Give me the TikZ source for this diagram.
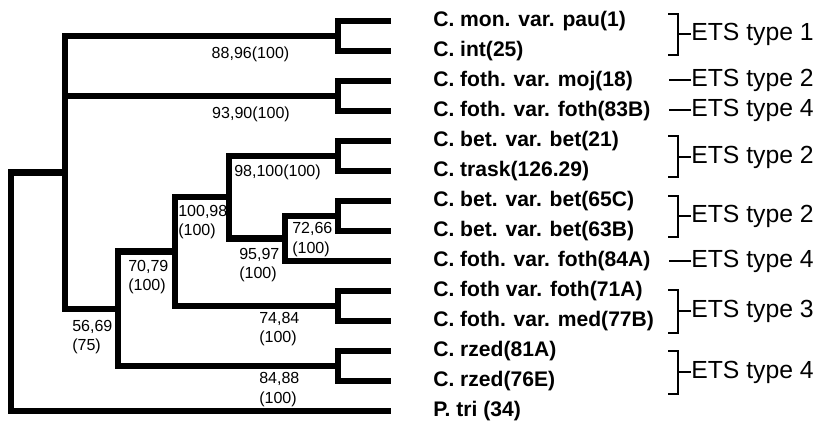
\documentclass[tikz,border=0pt]{standalone}
\usepackage{fontspec}
\setmainfont{Liberation Sans}
\usetikzlibrary{calc}
\tikzset{
  branch/.style={draw=black, line width=4.6pt, line join=miter},
  bracket/.style={draw=black, line width=2.1pt},
  leaf/.style={anchor=west, inner sep=0pt, font=\fontsize{15pt}{18pt}\selectfont\bfseries},
  support/.style={inner sep=0pt, align=left, font=\fontsize{11.4pt}{13.9pt}\selectfont},
  ets/.style={anchor=west, inner sep=0pt, font=\fontsize{17.6pt}{20pt}\selectfont},
}

\begin{document}
\begin{tikzpicture}[x=0.25mm,y=-0.25mm]
  \useasboundingbox (0,0) rectangle (825,430);
  % leaves, 30 units apart
  \foreach \i/\name in {0/{C. mon. var. pau(1)},1/{C. int(25)},2/{C. foth. var. moj(18)},
      3/{C. foth. var. foth(83B)},4/{C. bet. var. bet(21)},5/{C. trask(126.29)},
      6/{C. bet. var. bet(65C)},7/{C. bet. var. bet(63B)},8/{C. foth. var. foth(84A)},
      9/{C. foth var. foth(71A)},10/{C. foth. var. med(77B)},11/{C. rzed(81A)},
      12/{C. rzed(76E)},13/{P. tri (34)}}{
    \coordinate (l\i) at (391,{21+30*\i});
    \node[leaf] (t\i) at (433,{21+30*\i}) {\name};
  }
  % inner nodes
  \coordinate (pA) at (338,36);
  \coordinate (pB) at (338,96);
  \coordinate (pC) at (338,156);
  \coordinate (pD) at (338,216);
  \coordinate (pE) at (338,306);
  \coordinate (pF) at (338,366);
  \coordinate (n72) at (285,238.5);
  \coordinate (n98) at (229,197.25);
  \coordinate (n100) at (175,251.6);
  \coordinate (n70) at (118,308.8);
  \coordinate (n56) at (65,172.4);
  \coordinate (root) at (11,291.7);
  % branches
  \draw[branch] (l0) -| (pA) |- (l1);
  \draw[branch] (l2) -| (pB) |- (l3);
  \draw[branch] (l4) -| (pC) |- (l5);
  \draw[branch] (l6) -| (pD) |- (l7);
  \draw[branch] (l9) -| (pE) |- (l10);
  \draw[branch] (l11) -| (pF) |- (l12);
  \draw[branch] (pD) -| (n72) |- (l8);
  \draw[branch] (pC) -| (n98) |- (n72);
  \draw[branch] (n98) -| (n100) |- (pE);
  \draw[branch] (n100) -| (n70) |- (pF);
  \draw[branch] (pA) -| (n56) |- (n70);
  \draw[branch] (pB) -- (pB -| n56);
  \draw[branch] (n56) -| (root) |- (l13);
  % support values
  \node[support] (s88) at (250.5,54) {88,96(100)};
  \node[support] (s93) at (251,114) {93,90(100)};
  \node[support] (s98) at (277.5,172.5) {98,100(100)};
  \node[support, anchor=west] (s100) at (178,222) {100,98\\(100)};
  \node[support, anchor=west] (s72) at (292,239.5) {72,66\\(100)};
  \node[support, anchor=west] (s95) at (239,265) {95,97\\(100)};
  \node[support, anchor=west] (s70) at (128,277) {70,79\\(100)};
  \node[support, anchor=west] (s56) at (72,337) {56,69\\(75)};
  \node[support, anchor=west] (s74) at (259,329) {74,84\\(100)};
  \node[support, anchor=west] (s84) at (259,389.5) {84,88\\(100)};
  % ETS types
  \node[ets] (e1) at (691,34) {ETS type 1};
  \node[ets] (e2) at (691,80) {ETS type 2};
  \node[ets] (e3) at (691,110) {ETS type 4};
  \node[ets] (e4) at (691,157) {ETS type 2};
  \node[ets] (e5) at (691,216) {ETS type 2};
  \node[ets] (e6) at (691,261) {ETS type 4};
  \node[ets] (e7) at (691,311) {ETS type 3};
  \node[ets] (e8) at (691,372) {ETS type 4};
  \foreach \ya/\yb in {14/55,136/177,196/237,290/333,351/394}{
    \draw[bracket] (668,\ya) -| (678,\yb) -- (668,\yb);
  }
  \draw[bracket] (678,34) -- (e1.west);
  \draw[bracket] (669,80) -- (e2.west);
  \draw[bracket] (669,110) -- (e3.west);
  \draw[bracket] (678,157) -- (e4.west);
  \draw[bracket] (678,216) -- (e5.west);
  \draw[bracket] (669,261) -- (e6.west);
  \draw[bracket] (678,311) -- (e7.west);
  \draw[bracket] (678,372) -- (e8.west);
\end{tikzpicture}
\end{document}
